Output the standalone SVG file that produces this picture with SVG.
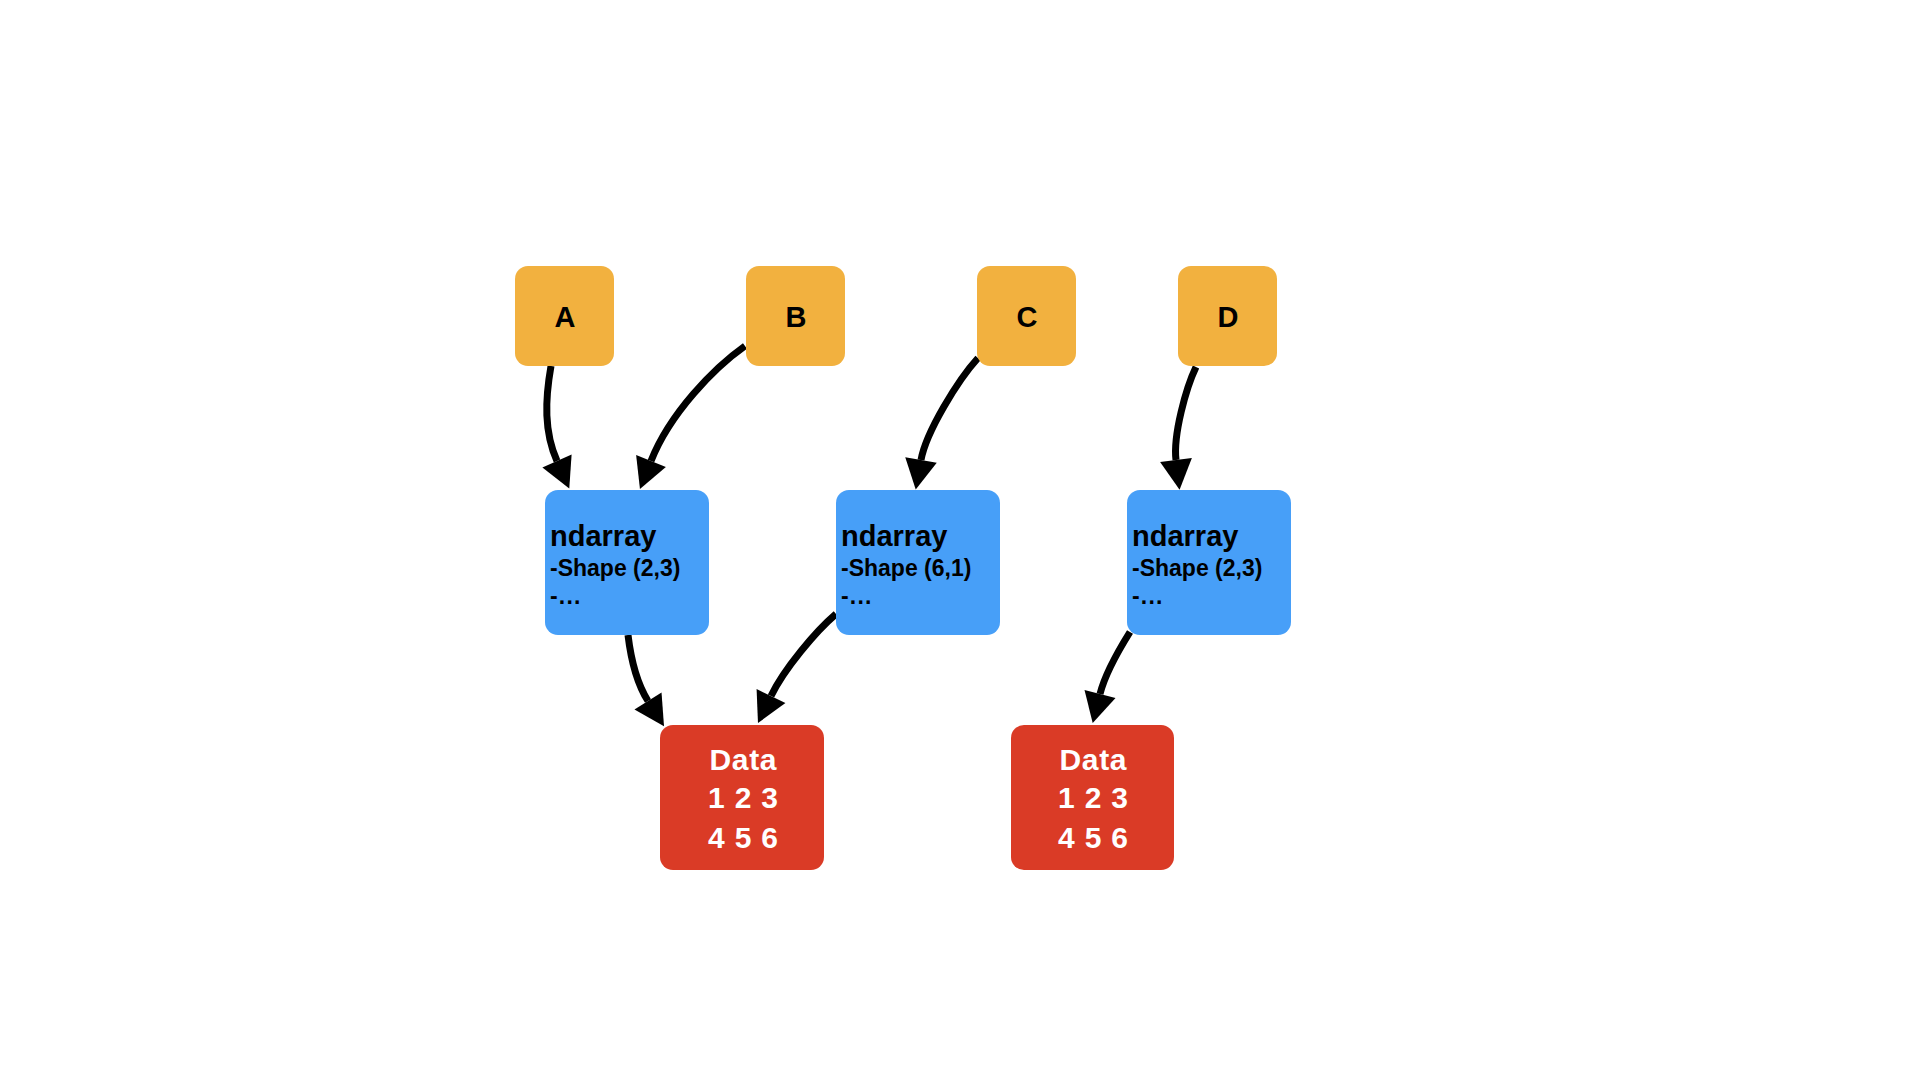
<svg xmlns="http://www.w3.org/2000/svg" width="1920" height="1080" viewBox="0 0 1920 1080">
<defs>
<style>
.bg{fill:#ffffff}
.var{fill:#F2B13F}
.arr{fill:#479FF8}
.dat{fill:#DA3B26}
.t{font-family:"Liberation Sans",Arial,Helvetica,sans-serif;font-weight:bold}
.lbl{font-size:29px;fill:#000;text-anchor:middle}
.h{font-size:29px;fill:#000}
.s{font-size:23px;fill:#000}
.e{letter-spacing:1.2px}
.d{font-size:30px;fill:#fff;text-anchor:middle}
.c{fill:none;stroke:#000;stroke-width:7}
</style>
<marker id="ah" markerUnits="userSpaceOnUse" viewBox="0 -16 30 32" refX="0" refY="0" markerWidth="30" markerHeight="32" orient="auto" overflow="visible">
<path d="M0,-16 L30,0 L0,16 z" fill="#000"/>
</marker>
</defs>
<rect class="bg" x="0" y="0" width="1920" height="1080"/>
<g id="connectors">
<path class="c" marker-end="url(#ah)" d="M551,366 C545,400 544,432 557,461"/>
<path class="c" marker-end="url(#ah)" d="M745,346 C714,368 670,413 651,461"/>
<path class="c" marker-end="url(#ah)" d="M978,358 C958,380 926,432 921,460"/>
<path class="c" marker-end="url(#ah)" d="M1196,367 C1186,388 1173,435 1176,460"/>
<path class="c" marker-end="url(#ah)" d="M628,635 C631,660 636,682 648,701"/>
<path class="c" marker-end="url(#ah)" d="M836,614 C816,631 784,669 771,696"/>
<path class="c" marker-end="url(#ah)" d="M1130,632 C1120,648 1105,674 1100,694"/>
</g>
<g id="nodeA"><rect class="var" x="515" y="266" width="99" height="100" rx="13"/><text class="t lbl" x="565" y="327">A</text></g>
<g id="nodeB"><rect class="var" x="746" y="266" width="99" height="100" rx="13"/><text class="t lbl" x="796" y="327">B</text></g>
<g id="nodeC"><rect class="var" x="977" y="266" width="99" height="100" rx="13"/><text class="t lbl" x="1027" y="327">C</text></g>
<g id="nodeD"><rect class="var" x="1178" y="266" width="99" height="100" rx="13"/><text class="t lbl" x="1228" y="327">D</text></g>
<g id="ndarray1"><rect class="arr" x="545" y="490" width="164" height="145" rx="13"/>
<text class="t h" x="550" y="546">ndarray</text><text class="t s" x="550" y="576">-Shape (2,3)</text><text class="t s e" x="550" y="604">-...</text></g>
<g id="ndarray2"><rect class="arr" x="836" y="490" width="164" height="145" rx="13"/>
<text class="t h" x="841" y="546">ndarray</text><text class="t s" x="841" y="576">-Shape (6,1)</text><text class="t s e" x="841" y="604">-...</text></g>
<g id="ndarray3"><rect class="arr" x="1127" y="490" width="164" height="145" rx="13"/>
<text class="t h" x="1132" y="546">ndarray</text><text class="t s" x="1132" y="576">-Shape (2,3)</text><text class="t s e" x="1132" y="604">-...</text></g>
<g id="data1"><rect class="dat" x="660" y="725" width="164" height="145" rx="13"/>
<text class="t d" x="743" y="770" textLength="67" lengthAdjust="spacing">Data</text><text class="t d" x="743" y="808" textLength="70" lengthAdjust="spacing">1 2 3</text><text class="t d" x="743" y="848" textLength="70" lengthAdjust="spacing">4 5 6</text></g>
<g id="data2"><rect class="dat" x="1011" y="725" width="163" height="145" rx="13"/>
<text class="t d" x="1093" y="770" textLength="67" lengthAdjust="spacing">Data</text><text class="t d" x="1093" y="808" textLength="70" lengthAdjust="spacing">1 2 3</text><text class="t d" x="1093" y="848" textLength="70" lengthAdjust="spacing">4 5 6</text></g>
</svg>
